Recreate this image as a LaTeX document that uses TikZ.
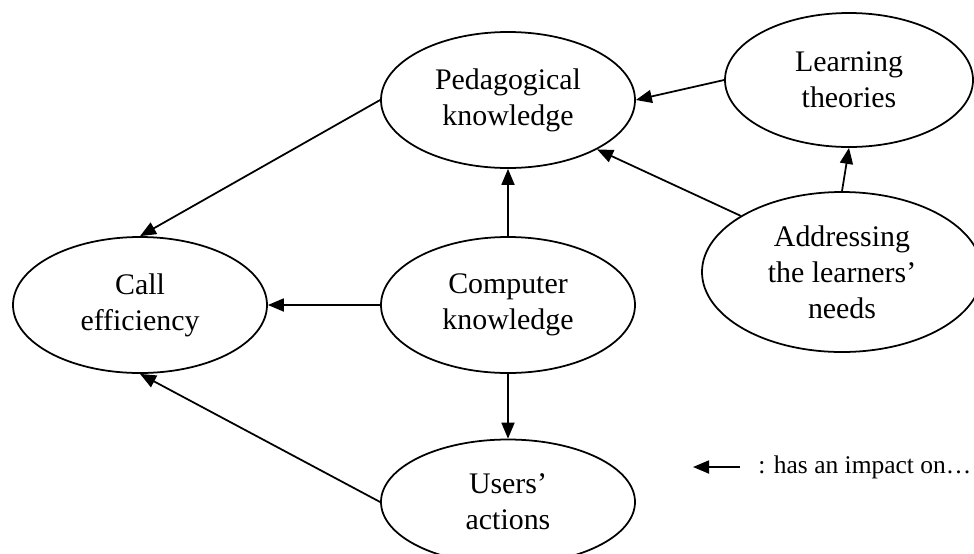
\documentclass[tikz,border=0pt]{standalone}
\usepackage{fontspec}
\setmainfont{Liberation Serif}
\usepackage{tikz}
\usetikzlibrary{shapes.geometric,arrows.meta}

\begin{document}
\begin{tikzpicture}[
  x=0.2mm, y=-0.2mm,
  font=\fontsize{17}{20.5}\selectfont,
  concept/.style = {draw, ellipse, line width=1pt, align=center, inner sep=0pt,
                    minimum width=50.8mm, minimum height=27.2mm},
  imp/.style     = {-{Triangle[length=3.2mm,width=2.6mm]}, line width=1pt},
  key/.style     = {font=\fontsize{14.5}{17}\selectfont, anchor=west, inner sep=0pt}
]
\path[use as bounding box] (0,0) rectangle (974,553);

% ---------- the concepts ---------------------------------------------------
\node[concept] (ped)   at (508,100) {Pedagogical\\knowledge};
\node[concept] (comp)  at (508,305) {Computer\\knowledge};
\node[concept, minimum height=25mm] (users) at (508,502) {Users'\\actions};
\node[concept] (call)  at (140,305) {Call\\efficiency};
\node[concept, minimum width=49.6mm, minimum height=26.8mm]
  (learn) at (849,80) {Learning\\theories};
\node[concept, minimum width=56mm, minimum height=32mm]
  (addr)  at (842,272) {Addressing\\the learners'\\needs};

% ---------- impacts --------------------------------------------------------
\draw[imp] (ped.west)   -- (call.north);
\draw[imp] (comp.west)  -- (call.east);
\draw[imp] (users.west) -- (call.south);
\draw[imp] (comp)       -- (ped);
\draw[imp] (comp)       -- (users);
\draw[imp] (learn.west) -- (ped.east);
\draw[imp] (addr.151)   -- (ped.-29);
\draw[imp] (addr.north) -- (learn.south);

% ---------- legend ---------------------------------------------------------
\node[key] (keytxt) at (758,467) {: has an impact on\ldots};
\coordinate (keyR) at (740,467);
\coordinate (keyL) at (693,467);
\draw[imp] (keyR) -- (keyL);

\end{tikzpicture}
\end{document}
